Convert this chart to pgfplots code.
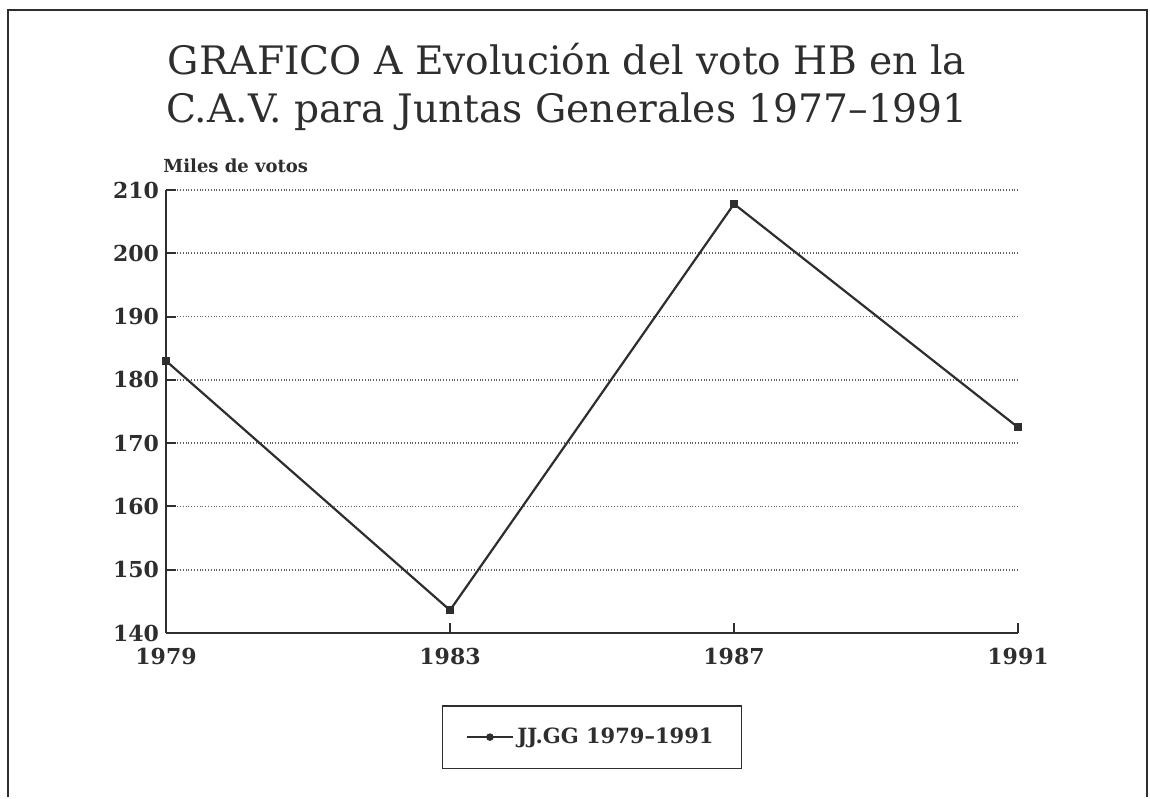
\documentclass[border=0pt]{standalone}
\usepackage{fontspec}
\setmainfont{DejaVu Serif}
\usepackage{pgfplots}
\pgfplotsset{compat=1.18}
\definecolor{ink}{HTML}{2E2E2E}
\definecolor{gridc}{HTML}{606060}
\begin{document}
\begin{tikzpicture}
% page and frame (1px = 0.5pt, origin at axis south west)
\fill[white] (-83pt,-82pt) rectangle (492pt,316.5pt);
\draw[ink, line width=1.2pt] (-79pt,-82pt) -- (-79pt,311.5pt) -- (490.5pt,311.5pt) -- (490.5pt,-82pt);
\node[ink, align=center, font=\fontsize{19.6}{24}\selectfont] at (200.5pt,273pt)
  {GRAFICO A Evolución del voto HB en la\\C.A.V. para Juntas Generales 1977--1991};
\node[ink, anchor=west, inner sep=0pt, font=\fontsize{9}{10}\selectfont\bfseries] at (-1.5pt,233.5pt) {Miles de votos};
\begin{axis}[
  at={(0,0)}, anchor=south west,
  scale only axis, width=426pt, height=221.5pt,
  xmin=1979, xmax=1991, ymin=140, ymax=210,
  xtick={1979,1983,1987,1991},
  ytick={140,150,...,210},
  axis lines=left,
  axis line style={ink, line width=1.1pt, -},
  tick style={ink, line width=1pt},
  tick align=inside,
  major tick length=5pt,
  ymajorgrids,
  grid style={gridc, densely dotted, line width=0.9pt},
  /pgf/number format/assume math mode=true,
  /pgf/number format/1000 sep={},
  ticklabel style={ink, font=\fontsize{11}{13}\selectfont\bfseries},
  xticklabel style={yshift=-4pt},
  yticklabel style={xshift=0pt},
  legend style={at={(0.5,-0.235)}, anchor=center, draw=ink, line width=0.9pt,
    inner xsep=12pt, inner ysep=9pt, font=\fontsize{10.5}{12}\selectfont\bfseries, text=ink},
  legend image code/.code={
    \draw[#1, line width=0.7pt] (0cm,0cm) -- (0.8cm,0cm);
    \fill[ink] (0.4cm,0cm) circle (1.3pt);
  },
]
\addplot[ink, line width=1.1pt, mark=square*, mark size=1.4pt, mark options={solid, fill=ink}]
  coordinates {(1979,183) (1983,143.6) (1987,207.8) (1991,172.5)};
\addlegendentry{JJ.GG 1979--1991}
\end{axis}
\end{tikzpicture}
\end{document}
